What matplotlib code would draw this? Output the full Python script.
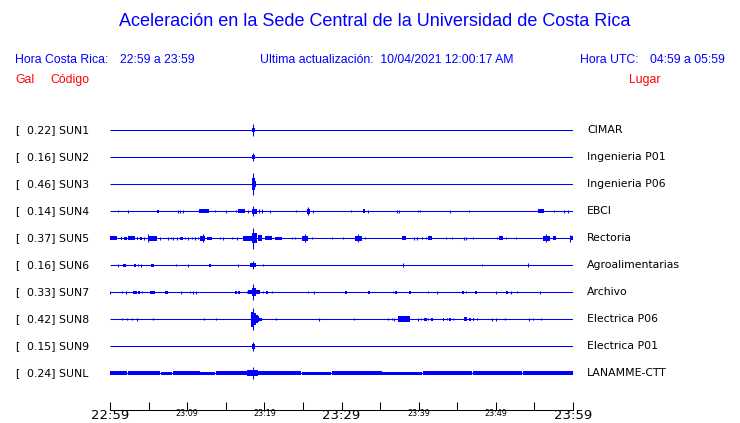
import matplotlib
matplotlib.use("Agg")
import matplotlib.pyplot as plt
from matplotlib.transforms import blended_transform_factory

# station codes, peak acceleration (gal) and site names
codes = ["SUN1", "SUN2", "SUN3", "SUN4", "SUN5", "SUN6", "SUN7", "SUN8", "SUN9", "SUNL"]
gal = [0.22, 0.16, 0.46, 0.14, 0.37, 0.16, 0.33, 0.42, 0.15, 0.24]
places = ["CIMAR", "Ingenieria P01", "Ingenieria P06", "EBCI", "Rectoria",
          "Agroalimentarias", "Archivo", "Electrica P06", "Electrica P01", "LANAMME-CTT"]

# time axis (minutes after 22:59)
tick_minutes = [0, 5, 10, 15, 20, 25, 30, 35, 40, 45, 50, 55, 60]
label_minutes = [0, 10, 20, 30, 40, 50, 60]
tick_labels = ["22:59", "23:09", "23:19", "23:29", "23:39", "23:49", "23:59"]

# bursts per station: (start min, end min, half amplitude)
sun1 = [(18.34, 18.79, 2), (18.53, 18.53, 6)]
sun2 = [(18.34, 18.79, 2), (18.53, 18.53, 4)]
sun3 = [(18.34, 18.92, 3), (18.4, 18.8, 6), (18.53, 18.53, 11)]
sun4 = [(1.08, 1.08, 1), (2.37, 2.37, 1.5), (6.05, 6.35, 1.5), (8.77, 8.77, 1.5),
        (9.11, 9.11, 1.5), (9.46, 9.46, 1.5), (11.57, 12.87, 2), (13.61, 13.61, 1),
        (14.99, 14.99, 1.5), (16.33, 16.33, 1), (16.63, 17.5, 2), (17.85, 17.85, 1.5),
        (18.36, 19.01, 2.5), (18.57, 18.57, 4.7), (19.31, 19.31, 2), (19.66, 19.66, 2),
        (20.7, 20.7, 1.5), (24.1, 24.1, 1), (25.53, 25.88, 2.5), (25.7, 25.7, 4),
        (26.35, 26.35, 1.5), (31.19, 31.19, 1), (32.83, 33.09, 2), (33.47, 33.47, 1.5),
        (37.23, 37.23, 1.5), (37.49, 37.49, 1.5), (39.92, 39.92, 1), (40.18, 40.18, 1),
        (44.06, 44.06, 1.5), (46.56, 46.56, 1), (55.5, 56.25, 2), (57.58, 57.58, 1),
        (58.88, 58.88, 1.5), (59.32, 59.32, 1.5)]
sun5 = [(0.0, 0.87, 2), (1.43, 1.6, 1.5), (1.85, 2.16, 1.5), (2.29, 3.24, 2),
        (3.46, 3.67, 1.5), (3.89, 4.1, 1.5), (4.45, 4.45, 1.5), (4.97, 4.97, 3.7),
        (4.97, 6.05, 2.5), (6.48, 6.48, 1.5), (7.56, 7.56, 1.5), (7.9, 7.9, 1),
        (8.2, 8.2, 1.5), (8.64, 8.64, 1.5), (9.07, 9.5, 1.5), (9.72, 9.72, 1),
        (10.15, 10.15, 1.5), (10.58, 10.58, 1), (11.0, 11.0, 1.5), (11.44, 11.44, 1),
        (11.66, 12.31, 2.5), (12.0, 12.0, 4), (12.53, 13.18, 1.5), (14.25, 14.25, 1),
        (14.68, 14.68, 1.5), (15.77, 15.77, 1), (16.42, 16.42, 1.5), (17.28, 18.36, 2.5),
        (18.36, 19.01, 5), (18.53, 18.53, 10.5), (19.22, 19.66, 3), (20.09, 20.96, 2),
        (21.38, 22.25, 1.5), (23.55, 23.55, 1), (23.98, 23.98, 1), (24.84, 25.7, 2.5),
        (25.27, 25.27, 4), (26.14, 26.14, 1), (28.73, 28.73, 1), (30.24, 30.24, 1),
        (31.75, 32.62, 2.5), (32.1, 32.1, 4), (33.05, 33.05, 1), (37.8, 38.36, 2),
        (39.4, 39.4, 1.5), (39.83, 39.83, 1.5), (40.4, 40.4, 1), (40.95, 40.95, 1),
        (41.25, 41.69, 2), (43.54, 43.54, 1), (44.28, 44.28, 1), (45.88, 45.88, 1.5),
        (46.14, 46.14, 1.5), (47.0, 47.0, 1), (50.19, 50.19, 1), (50.45, 50.89, 2),
        (51.28, 51.28, 1), (52.58, 52.58, 1), (56.1, 57.0, 2.5), (56.5, 56.5, 4),
        (57.45, 57.8, 2), (59.6, 60.0, 2), (59.6, 59.6, 3.5)]
sun6 = [(1.0, 1.0, 1.5), (1.72, 2.03, 1.5), (3.11, 3.33, 1.5), (3.67, 3.67, 1),
        (3.98, 3.98, 1.5), (5.27, 5.7, 1.5), (8.55, 8.55, 1), (10.15, 10.15, 1.5),
        (12.87, 13.09, 1.5), (16.63, 16.63, 1.5), (18.14, 18.88, 2), (18.57, 18.57, 4),
        (19.87, 19.87, 1), (38.01, 38.01, 2), (48.17, 48.17, 1), (54.21, 54.21, 2)]
sun7 = [(0.0, 0.0, 1.5), (1.6, 1.6, 1), (2.03, 2.03, 1.5), (3.02, 3.46, 1.5),
        (3.67, 3.89, 1.5), (4.1, 4.1, 1), (5.18, 5.83, 1.5), (7.13, 7.48, 1.5),
        (9.2, 9.2, 1.5), (10.37, 10.37, 1), (10.8, 10.8, 1.5), (11.11, 11.11, 1.5),
        (16.2, 16.42, 1.5), (16.63, 16.85, 1.5), (17.72, 17.72, 1), (17.92, 18.36, 2),
        (18.36, 18.88, 4), (18.57, 18.57, 8), (18.88, 19.44, 2), (19.87, 19.87, 1),
        (20.18, 20.44, 1.5), (21.03, 21.03, 1), (25.7, 25.7, 1), (26.48, 26.48, 1.5),
        (30.46, 30.68, 1.5), (33.47, 33.69, 1.5), (36.72, 36.72, 1), (36.94, 37.16, 1.5),
        (38.79, 38.97, 1.5), (41.25, 41.25, 1), (42.34, 42.34, 1.5), (45.66, 45.88, 1.5),
        (46.14, 46.14, 1), (47.3, 47.52, 1.5), (50.03, 50.03, 1.5), (51.28, 51.54, 1.5),
        (51.93, 51.93, 1.5), (52.78, 52.78, 1), (55.73, 55.73, 1.5)]
sun8 = [(1.52, 1.52, 1), (2.16, 2.16, 1), (2.89, 2.89, 1), (3.46, 3.46, 1.5),
        (5.61, 5.61, 1), (12.22, 12.22, 1), (13.74, 13.74, 1), (18.27, 18.7, 7.5),
        (18.57, 18.57, 11), (18.7, 18.88, 6), (18.88, 19.14, 4), (19.14, 19.35, 3),
        (19.35, 19.66, 1.5), (21.51, 21.51, 1), (27.12, 27.12, 1.5), (31.66, 31.66, 1),
        (36.07, 36.07, 1), (36.59, 36.59, 1), (36.85, 36.85, 1.5), (37.28, 38.88, 3),
        (39.96, 39.96, 1.5), (40.27, 40.27, 1), (40.69, 41.04, 1.5), (41.25, 41.25, 1),
        (41.56, 41.82, 1.5), (43.12, 43.29, 1.5), (43.64, 43.64, 1), (43.93, 44.15, 1.5),
        (44.49, 44.49, 1), (45.88, 46.31, 2), (46.56, 46.78, 1.5), (47.01, 47.17, 1.5),
        (47.6, 47.6, 1), (49.47, 49.47, 1.5), (50.03, 50.03, 1.5), (51.19, 51.19, 1),
        (54.34, 54.34, 1.5), (54.86, 54.86, 1), (55.86, 55.86, 1)]
sun9 = [(18.34, 18.79, 2.5), (18.53, 18.53, 4.5)]
sunl = [(0.0, 2.2, 2), (2.3, 6.5, 2), (6.6, 8.0, 1.5), (8.1, 11.6, 2), (11.7, 13.6, 1.5),
        (13.7, 17.8, 2), (17.8, 19.2, 3), (18.53, 18.53, 6), (19.2, 24.8, 2),
        (24.9, 28.7, 1.5), (28.8, 35.2, 2), (35.3, 40.4, 1.5), (40.5, 46.9, 2),
        (47.0, 53.4, 2), (53.5, 60.0, 2)]
events = [sun1, sun2, sun3, sun4, sun5, sun6, sun7, sun8, sun9, sunl]

W, H = 740, 423
BLUE = "#0000ff"
PX = 1 / 27  # trace spacing is 27 px
LW = 0.75    # about one pixel

fig = plt.figure(figsize=(W / 100, H / 100), dpi=100)
ax = fig.add_axes([110 / W, 1 - 409.5 / H, 463 / W, (409.5 - 115) / H])
ax.set_xlim(0, 60)
ax.set_ylim(-279.5 / 27, 15 / 27)

for i, evs in enumerate(events):
    y = -i
    ax.hlines(y, 0, 60, color=BLUE, lw=LW)
    for t0, t1, a in evs:
        if t1 - t0 < 0.05:
            ax.vlines(t0, y - a * PX, y + a * PX, color=BLUE, lw=LW)
        else:
            ax.fill_between([t0, t1], y - a * PX, y + a * PX, color=BLUE, lw=0)

for s in ["top", "left", "right"]:
    ax.spines[s].set_visible(False)
ax.spines["bottom"].set_linewidth(LW)
ax.set_yticks([])
ax.set_xticks(tick_minutes)
ax.set_xticklabels([])
ax.tick_params(axis="x", direction="in", length=6, width=LW, color="black")

# time labels below the axis
for m, lab in zip(label_minutes, tick_labels):
    big = m in (0, 30, 60)
    ax.text(m, -279.5 / 27 - (6 / 27 if big else 4.5 / 27), lab,
            fontsize=9.5 if big else 5.8, ha="center", va="center",
            family="DejaVu Sans", color="black")

# station labels
tr = blended_transform_factory(fig.transFigure, ax.transData)
for i, (c, g, p) in enumerate(zip(codes, gal, places)):
    ax.text(15 / W, -i, "[", transform=tr, fontsize=7.8, va="center", family="DejaVu Sans")
    ax.text(27 / W, -i, "{:.2f}] {}".format(g, c), transform=tr, fontsize=7.8,
            va="center", family="DejaVu Sans")
    ax.text(587 / W, -i, p, transform=tr, fontsize=7.8, va="center", family="DejaVu Sans")

def ftext(x, y, s, **kw):
    kw.setdefault("family", "Liberation Sans")
    fig.text(x / W, 1 - y / H, s, va="center", **kw)

ftext(375, 22, "Aceleración en la Sede Central de la Universidad de Costa Rica",
      fontsize=13, color=BLUE, ha="center")
ftext(15, 60, "Hora Costa Rica:", fontsize=8.8, color=BLUE)
ftext(120, 60, "22:59 a 23:59", fontsize=8.8, color=BLUE)
ftext(260, 60, "Ultima actualización:  10/04/2021 12:00:17 AM", fontsize=8.8, color=BLUE)
ftext(580, 60, "Hora UTC:", fontsize=8.8, color=BLUE)
ftext(650, 60, "04:59 a 05:59", fontsize=8.8, color=BLUE)
ftext(15, 80, "Gal", fontsize=8.8, color="red")
ftext(50, 80, "Código", fontsize=8.8, color="red")
ftext(629, 80, "Lugar", fontsize=8.8, color="red")

fig.savefig("out.png", dpi=100)
